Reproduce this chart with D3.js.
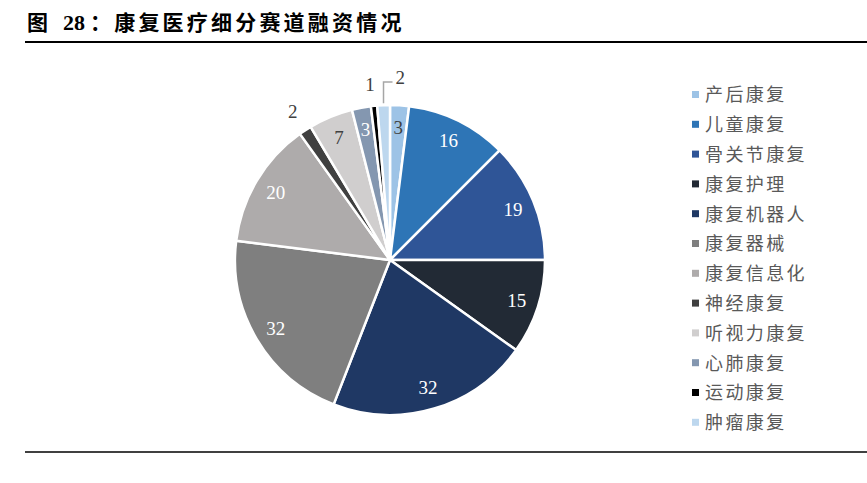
<!DOCTYPE html>
<html><head><meta charset="utf-8">
<script src="https://cdn.jsdelivr.net/npm/d3@7"></script>
<style>body{margin:0;background:#fff}</style>
</head><body>
<svg id="c" width="867" height="483"></svg>
<script>
const categories = ["产后康复","儿童康复","骨关节康复","康复护理","康复机器人","康复器械","康复信息化","神经康复","听视力康复","心肺康复","运动康复","肿瘤康复"];
const values = [3,16,19,15,32,32,20,2,7,3,1,2];
const colors = ["#9dc3e6","#2e75b6","#2f5597","#222a35","#1f3864","#7f7f7f","#aeabab","#404040","#d0cece","#8497b0","#000000","#bdd7ee"];
const labelColors = ["#404040","#fff","#fff","#fff","#fff","#fff","#fff","#404040","#404040","#fff","#404040","#404040"];
const outside = [false,false,false,false,false,false,false,true,false,false,true,true];
const titleParts = ["图","28","：康复医疗细分赛道融资情况"];

const svg = d3.select("#c");
const tf = "'Liberation Serif','Noto Sans CJK SC',serif";
svg.append("text").attr("x",27).attr("y",30).attr("font-family",tf).attr("font-weight","bold").attr("font-size",21).attr("fill","#000").text(titleParts[0]);
svg.append("text").attr("x",63).attr("y",30).attr("font-family",tf).attr("font-weight","bold").attr("font-size",22).attr("fill","#000").text(titleParts[1]);
svg.append("text").attr("x",90).attr("y",30).attr("font-family",tf).attr("font-weight","bold").attr("font-size",21).attr("letter-spacing",3.2).attr("fill","#000").text(titleParts[2]);
svg.append("line").attr("x1",25).attr("x2",867).attr("y1",42).attr("y2",42).attr("stroke","#000").attr("stroke-width",2);
svg.append("line").attr("x1",25).attr("x2",867).attr("y1",452).attr("y2",452).attr("stroke","#000").attr("stroke-width",1.5);

const cx=390, cy=260, r=155;
const data = categories.map((c,i)=>({c,v:values[i],i}));
const pie = d3.pie().value(d=>d.v).sort(null);
const arcs = pie(data);
const arc = d3.arc().innerRadius(0).outerRadius(r);
const g = svg.append("g").attr("transform",`translate(${cx},${cy})`);
g.selectAll("path").data(arcs).join("path").attr("d",arc)
  .attr("fill",d=>colors[d.data.i]).attr("stroke","#fff").attr("stroke-width",2.5).attr("stroke-linejoin","round");

const labelArc = d3.arc().innerRadius(133).outerRadius(133);
g.selectAll("text.in").data(arcs.filter(d=>!outside[d.data.i])).join("text").attr("class","in")
  .attr("transform",d=>`translate(${labelArc.centroid(d)})`)
  .attr("text-anchor","middle").attr("dy","0.35em")
  .attr("font-family","'Liberation Serif',serif").attr("font-size",19)
  .attr("fill",d=>labelColors[d.data.i]).text(d=>d.data.v);

// outside labels
const outArc = d3.arc().innerRadius(178).outerRadius(178);
arcs.filter(d=>outside[d.data.i]).forEach(d=>{
  const i=d.data.i;
  if(i===11){
    const mid=(d.startAngle+d.endAngle)/2;
    const x0=Math.sin(mid)*(r+2), y0=-Math.cos(mid)*(r+2);
    const yTop=-178;
    g.append("path").attr("d",`M${x0},${y0}V${yTop}H${x0+9}`).attr("fill","none").attr("stroke","#a6a6a6").attr("stroke-width",1.5);
    g.append("text").attr("x",x0+12).attr("y",yTop-5).attr("dy","0.35em")
      .attr("font-family","'Liberation Serif',serif").attr("font-size",19).attr("fill","#404040").text(d.data.v);
  } else {
    const p = (i===10)? [-20,-176] : outArc.centroid(d);
    g.append("text").attr("x",p[0]).attr("y",p[1]).attr("dy","0.35em").attr("text-anchor","middle")
      .attr("font-family","'Liberation Serif',serif").attr("font-size",19).attr("fill","#404040").text(d.data.v);
  }
});

// legend
const lg = svg.append("g").attr("transform","translate(692,95)");
const rows = lg.selectAll("g").data(categories).join("g").attr("transform",(d,i)=>`translate(0,${i*29.8})`);
rows.append("rect").attr("x",0).attr("y",-4).attr("width",7).attr("height",7).attr("fill",(d,i)=>colors[i]);
rows.append("text").attr("x",13).attr("y",0).attr("dy","0.35em")
  .attr("font-family","'Noto Sans CJK SC',sans-serif").attr("font-size",18).attr("letter-spacing",2.4).attr("fill","#595959").text(d=>d);
</script>
</body></html>
